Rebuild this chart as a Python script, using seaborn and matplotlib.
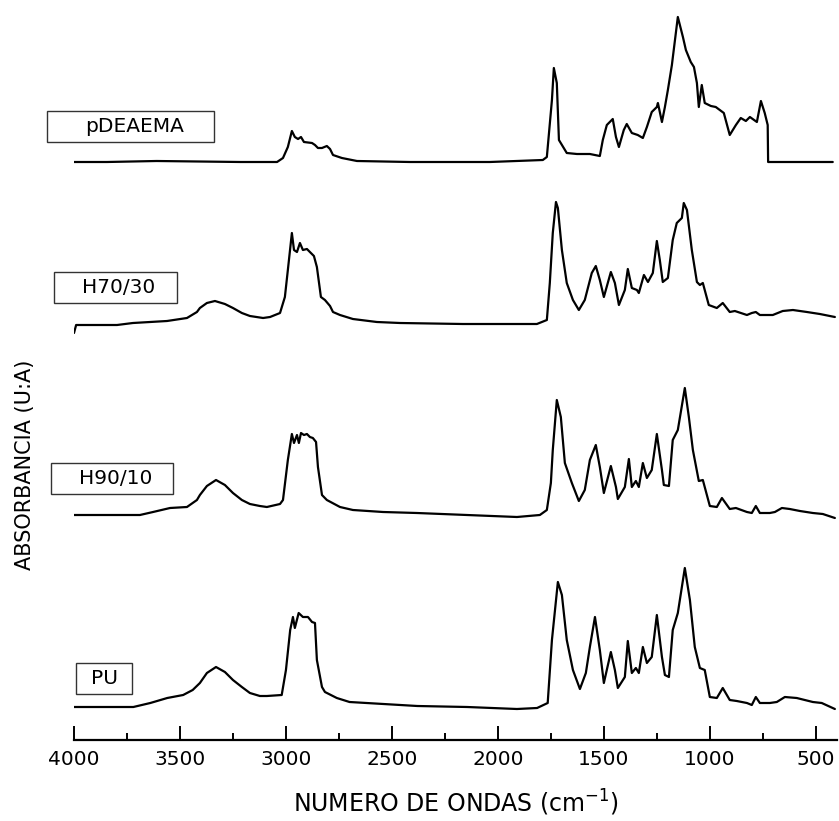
import matplotlib
matplotlib.use("Agg")
import matplotlib.pyplot as plt
from matplotlib.patches import Rectangle
from matplotlib.ticker import MultipleLocator
import numpy as np
import pandas as pd
import seaborn as sns

# ---------------- data (wavenumber cm-1, absorbance a.u. above own baseline) ----------------
PU = [(4000, 0.03), (3720, 0.03), (3640, 0.07), (3560, 0.12), (3485, 0.15), (3440, 0.20),
      (3406, 0.27), (3373, 0.37), (3330, 0.43), (3288, 0.38), (3250, 0.30), (3208, 0.23),
      (3170, 0.17), (3123, 0.14), (3090, 0.14), (3020, 0.15), (3000, 0.40),
      (2980, 0.80), (2967, 0.93), (2958, 0.82), (2940, 0.97), (2920, 0.93), (2896, 0.93),
      (2877, 0.88), (2863, 0.87), (2854, 0.50), (2830, 0.23), (2816, 0.18), (2760, 0.12),
      (2700, 0.08), (2540, 0.06), (2380, 0.04), (2145, 0.03), (1910, 0.01), (1815, 0.02),
      (1765, 0.07), (1745, 0.70), (1717, 1.28), (1698, 1.15), (1675, 0.70), (1646, 0.40),
      (1613, 0.21), (1585, 0.37), (1566, 0.63), (1542, 0.93), (1519, 0.60), (1500, 0.27),
      (1467, 0.58), (1448, 0.40), (1434, 0.22), (1401, 0.33), (1387, 0.69), (1368, 0.37),
      (1349, 0.42), (1335, 0.37), (1316, 0.63), (1297, 0.47), (1274, 0.53), (1250, 0.95),
      (1226, 0.53), (1212, 0.35), (1193, 0.33), (1175, 0.80), (1151, 0.97), (1118, 1.42),
      (1094, 1.10), (1071, 0.63), (1047, 0.42), (1024, 0.40), (1000, 0.13), (967, 0.12),
      (939, 0.22), (906, 0.10), (873, 0.09), (825, 0.07), (802, 0.05), (783, 0.13),
      (764, 0.07), (717, 0.07), (684, 0.08), (646, 0.13), (590, 0.12), (514, 0.08),
      (472, 0.07), (410, 0.01)]

H90_10 = [(4000, 0.03), (3689, 0.03), (3627, 0.06), (3547, 0.10), (3467, 0.11), (3420, 0.18),
          (3406, 0.23), (3373, 0.32), (3330, 0.38), (3288, 0.33), (3250, 0.25), (3208, 0.18),
          (3170, 0.14), (3123, 0.12), (3090, 0.11), (3028, 0.14), (3014, 0.18),
          (2991, 0.58), (2972, 0.84), (2962, 0.75), (2948, 0.83), (2939, 0.75), (2929, 0.85),
          (2915, 0.83), (2901, 0.84), (2887, 0.81), (2873, 0.80), (2858, 0.76), (2849, 0.51),
          (2830, 0.23), (2807, 0.18), (2745, 0.11), (2684, 0.08), (2542, 0.06), (2382, 0.05),
          (2146, 0.03), (1910, 0.01), (1802, 0.03), (1769, 0.08), (1750, 0.35), (1741, 0.68),
          (1722, 1.18), (1703, 1.01), (1684, 0.55), (1651, 0.35), (1618, 0.17), (1590, 0.28),
          (1566, 0.58), (1538, 0.73), (1519, 0.51), (1500, 0.25), (1467, 0.52), (1443, 0.31),
          (1434, 0.19), (1401, 0.31), (1382, 0.59), (1368, 0.31), (1349, 0.37), (1335, 0.31),
          (1316, 0.55), (1297, 0.40), (1274, 0.48), (1250, 0.84), (1226, 0.48), (1217, 0.33),
          (1193, 0.32), (1175, 0.78), (1151, 0.88), (1118, 1.30), (1099, 1.01), (1080, 0.68),
          (1052, 0.37), (1033, 0.38), (1000, 0.12), (967, 0.11), (943, 0.20), (906, 0.09),
          (877, 0.10), (825, 0.06), (802, 0.05), (783, 0.12), (764, 0.05), (717, 0.05),
          (693, 0.06), (660, 0.10), (623, 0.09), (575, 0.07), (514, 0.05), (467, 0.04),
          (410, 0.00)]

H70_30 = [(4000, -0.07), (3990, 0.01), (3797, 0.01), (3722, 0.03), (3641, 0.04), (3561, 0.05),
          (3467, 0.08), (3420, 0.14), (3406, 0.18), (3373, 0.23), (3335, 0.25), (3288, 0.22),
          (3250, 0.18), (3208, 0.13), (3170, 0.10), (3108, 0.08),
          (3075, 0.09), (3028, 0.13), (3005, 0.29), (2991, 0.56), (2972, 0.93), (2962, 0.76),
          (2948, 0.74), (2934, 0.83), (2920, 0.76), (2901, 0.77), (2887, 0.74), (2868, 0.70),
          (2854, 0.59), (2835, 0.29), (2816, 0.26), (2792, 0.20), (2778, 0.14), (2745, 0.11),
          (2684, 0.07), (2571, 0.04), (2462, 0.03), (2165, 0.02), (1990, 0.02), (1816, 0.02),
          (1769, 0.06), (1755, 0.43), (1741, 0.93), (1726, 1.24), (1717, 1.18), (1698, 0.76),
          (1675, 0.43), (1646, 0.26), (1618, 0.16), (1590, 0.26), (1557, 0.53), (1538, 0.60),
          (1519, 0.46), (1500, 0.29), (1467, 0.54), (1448, 0.43), (1429, 0.21), (1401, 0.36),
          (1387, 0.57), (1368, 0.38), (1344, 0.36), (1335, 0.33), (1311, 0.51), (1292, 0.44),
          (1269, 0.53), (1250, 0.85), (1236, 0.66), (1222, 0.44), (1198, 0.48), (1175, 0.86),
          (1156, 1.03), (1132, 1.08), (1123, 1.23), (1108, 1.16), (1085, 0.76), (1061, 0.44),
          (1047, 0.41), (1033, 0.43), (1005, 0.21), (967, 0.18), (939, 0.23), (906, 0.14),
          (882, 0.15), (825, 0.11), (802, 0.13), (783, 0.14), (764, 0.11), (703, 0.11),
          (656, 0.15), (608, 0.16), (542, 0.14), (481, 0.12), (410, 0.09)]

PDEAEMA = [(4000, 0.01), (3845, 0.01), (3610, 0.02), (3215, 0.01), (3042, 0.01), (3014, 0.05),
           (2991, 0.16), (2972, 0.32), (2958, 0.26), (2943, 0.24), (2929, 0.26), (2915, 0.21),
           (2877, 0.20), (2863, 0.18), (2849, 0.15), (2830, 0.15), (2807, 0.17), (2792, 0.14),
           (2778, 0.08), (2736, 0.05), (2665, 0.02), (2415, 0.01), (2038, 0.01), (1788, 0.03),
           (1769, 0.06), (1745, 0.63), (1736, 0.95), (1722, 0.80), (1712, 0.23), (1675, 0.10),
           (1627, 0.09), (1566, 0.09), (1519, 0.07), (1505, 0.23), (1486, 0.38), (1458, 0.44),
           (1443, 0.26), (1429, 0.16), (1406, 0.33), (1392, 0.39), (1368, 0.30), (1340, 0.28),
           (1316, 0.25), (1297, 0.36), (1274, 0.51), (1250, 0.56), (1245, 0.60), (1226, 0.41),
           (1212, 0.56), (1198, 0.73), (1179, 0.98), (1175, 1.05), (1151, 1.46), (1127, 1.26),
           (1113, 1.13), (1090, 1.01), (1075, 0.96), (1061, 0.80), (1052, 0.56), (1038, 0.78),
           (1024, 0.60), (995, 0.57), (972, 0.56), (934, 0.50), (906, 0.28), (877, 0.38),
           (854, 0.45), (830, 0.42), (811, 0.46), (778, 0.41), (759, 0.62), (741, 0.50),
           (727, 0.38), (725, 0.01), (420, 0.01)]

SAMPLES = ["PU", "H90/10", "H70/30", "pDEAEMA"]
SPECTRA = [PU, H90_10, H70_30, PDEAEMA]
X_TICKS = [4000, 3500, 3000, 2500, 2000, 1500, 1000, 500]
X_LABEL = "NUMERO DE ONDAS (cm$^{-1}$)"
Y_LABEL = "ABSORBANCIA (U:A)"

# ---------------- layout / style (not data) ----------------
OFFSETS = [0.30, 2.22, 4.14, 5.77]          # vertical stacking of the traces
W, H = 839, 821

frames = []
for name, spec, off in zip(SAMPLES, SPECTRA, OFFSETS):
    arr = np.array(spec, dtype=float)
    frames.append(pd.DataFrame({"wn": arr[:, 0], "y": arr[:, 1] + off, "sample": name}))
df = pd.concat(frames, ignore_index=True)

sns.set_theme(style="white")
plt.rcParams["font.family"] = ["DejaVu Sans"]
plt.rcParams["mathtext.fontset"] = "dejavusans"

fig = plt.figure(figsize=(W / 100, H / 100), dpi=100)
ax = fig.add_axes([74 / W, 81 / H, (837 - 74) / W, 740 / H])

sns.lineplot(data=df, x="wn", y="y", units="sample", estimator=None,
             color="black", linewidth=1.6, ax=ax, legend=False)

ax.set_xlim(4000, 400)
ax.set_ylim(0, 7.40)
ax.set_xticks(X_TICKS)
ax.set_xticklabels([str(t) for t in X_TICKS], fontsize=14.5, color="black")
ax.xaxis.set_minor_locator(MultipleLocator(250))
ax.set_yticks([])
ax.set_ylabel("")
ax.set_xlabel(X_LABEL, fontsize=17, color="black", labelpad=14)
for s in ["left", "top", "right"]:
    ax.spines[s].set_visible(False)
ax.spines["bottom"].set_color("black")
ax.spines["bottom"].set_linewidth(1.6)
ax.tick_params(axis="x", which="major", direction="in", length=10, width=1.4,
               color="black", pad=7, bottom=True)
ax.tick_params(axis="x", which="minor", direction="in", length=5, width=1.4,
               color="black", bottom=True)
ax.patch.set_alpha(0)

fig.text(25 / W, 1 - 465 / H, Y_LABEL, rotation=90, ha="center", va="center",
         fontsize=15, color="black")

# label boxes (pixel layout)
boxes = [("pDEAEMA", 47, 111, 214, 142, 135),
         ("H70/30", 54, 272, 177, 303, 119),
         ("H90/10", 51, 463, 173, 494, 116),
         ("PU", 76, 663, 132, 694, 104.5)]
for text, x0, y0, x1, y1, tx in boxes:
    fig.patches.append(Rectangle((x0 / W, 1 - y1 / H), (x1 - x0) / W, (y1 - y0) / H,
                                 transform=fig.transFigure, fill=False,
                                 edgecolor="#333333", linewidth=1.0))
    fig.text(tx / W, 1 - ((y0 + y1) / 2) / H, text, ha="center", va="center",
             fontsize=14.5, color="black")

fig.savefig("out.png", dpi=100, facecolor="white")
